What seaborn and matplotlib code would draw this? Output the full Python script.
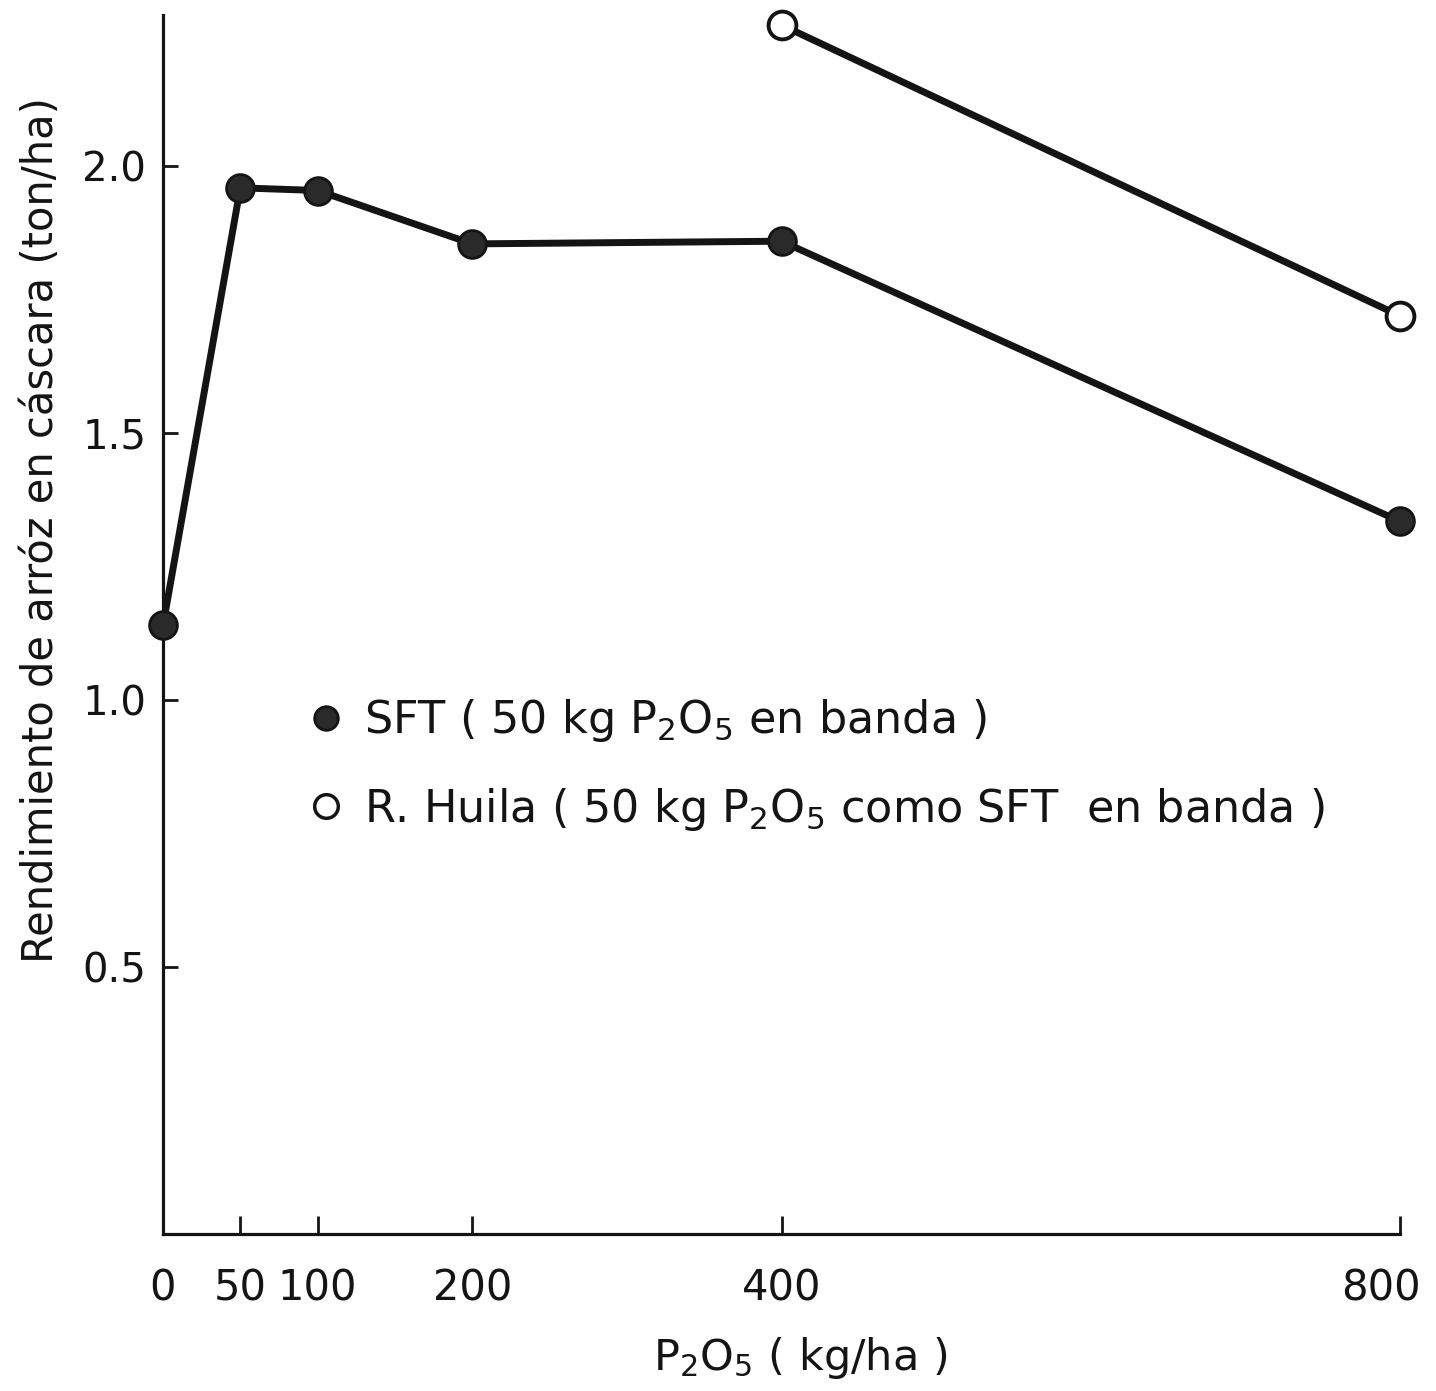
import matplotlib
matplotlib.use("Agg")
import matplotlib.pyplot as plt
from matplotlib.lines import Line2D
from matplotlib.transforms import ScaledTranslation
import seaborn as sns
import pandas as pd

# Data
sft_x = [0, 50, 100, 200, 400, 800]
sft_y = [1.14, 1.96, 1.955, 1.855, 1.86, 1.335]
huila_x = [400, 800]
huila_y = [2.265, 1.72]
x_ticks = [0, 50, 100, 200, 400, 800]
y_ticks = [0.5, 1.0, 1.5, 2.0]
y_tick_labels = ["0.5", "1.0", "1.5", "2.0"]

sns.set_style("white")
plt.rcParams['font.family'] = ['DejaVu Sans']
plt.rcParams['xtick.direction'] = 'in'
plt.rcParams['ytick.direction'] = 'in'
plt.rcParams['xtick.bottom'] = True
plt.rcParams['ytick.left'] = True

fig = plt.figure(figsize=(14.36, 13.91), dpi=100)
ax = fig.add_axes([0.1135, 0.1129, 0.8615, 0.876])

df_sft = pd.DataFrame({"x": sft_x, "y": sft_y})
df_h = pd.DataFrame({"x": huila_x, "y": huila_y})

ink = "#141414"
sns.lineplot(data=df_sft, x="x", y="y", ax=ax, color=ink, linewidth=5,
             marker="o", markersize=20, markerfacecolor="#2a2a2a",
             markeredgecolor=ink, markeredgewidth=2, clip_on=False, zorder=3)
sns.lineplot(data=df_h, x="x", y="y", ax=ax, color=ink, linewidth=5,
             marker="o", markersize=20, markerfacecolor="white",
             markeredgecolor=ink, markeredgewidth=2.8, clip_on=False, zorder=3)

ax.set_xlim(0, 800)
ax.set_ylim(0, 2.283)
ax.set_xticks(x_ticks)
ax.set_xticklabels([str(v) for v in x_ticks])
ax.set_yticks(y_ticks)
ax.set_yticklabels(y_tick_labels)

for s in ["top", "right"]:
    ax.spines[s].set_visible(False)
for s in ["left", "bottom"]:
    ax.spines[s].set_linewidth(2.3)
    ax.spines[s].set_color(ink)

ax.tick_params(axis="x", bottom=True, direction="in", length=13, width=2, pad=24,
               labelsize=30, colors=ink)
ax.tick_params(axis="y", left=True, direction="in", length=11, width=2, pad=12,
               labelsize=29, colors=ink)

# nudge the last x tick label slightly left so it stays inside the figure
lab = ax.xaxis.get_major_ticks()[-1].label1
lab.set_transform(lab.get_transform() + ScaledTranslation(-14 / 72, 0, fig.dpi_scale_trans))

ax.set_xlabel(r"P$_2$O$_5$ ( kg/ha )", fontsize=31, color=ink)
ax.set_ylabel("Rendimiento de arróz en cáscara (ton/ha)", fontsize=30, color=ink)
ax.xaxis.set_label_coords(0.515, -0.083)
ax.yaxis.set_label_coords(-0.082, 0.578)

handles = [
    Line2D([], [], linestyle="none", marker="o", markersize=17,
           markerfacecolor="#2a2a2a", markeredgecolor=ink, markeredgewidth=2),
    Line2D([], [], linestyle="none", marker="o", markersize=17,
           markerfacecolor="white", markeredgecolor=ink, markeredgewidth=2.5),
]
labels = [r"SFT ( 50 kg P$_2$O$_5$ en banda )",
          r"R. Huila ( 50 kg P$_2$O$_5$ como SFT  en banda )"]
leg = ax.legend(handles, labels, loc="upper left", bbox_to_anchor=(0.105, 0.455),
                frameon=False, fontsize=32, handlelength=0.7, handletextpad=0.5,
                labelspacing=0.93, borderaxespad=0)
for t in leg.get_texts():
    t.set_color(ink)

fig.savefig("out.png", dpi=100, facecolor="white")
